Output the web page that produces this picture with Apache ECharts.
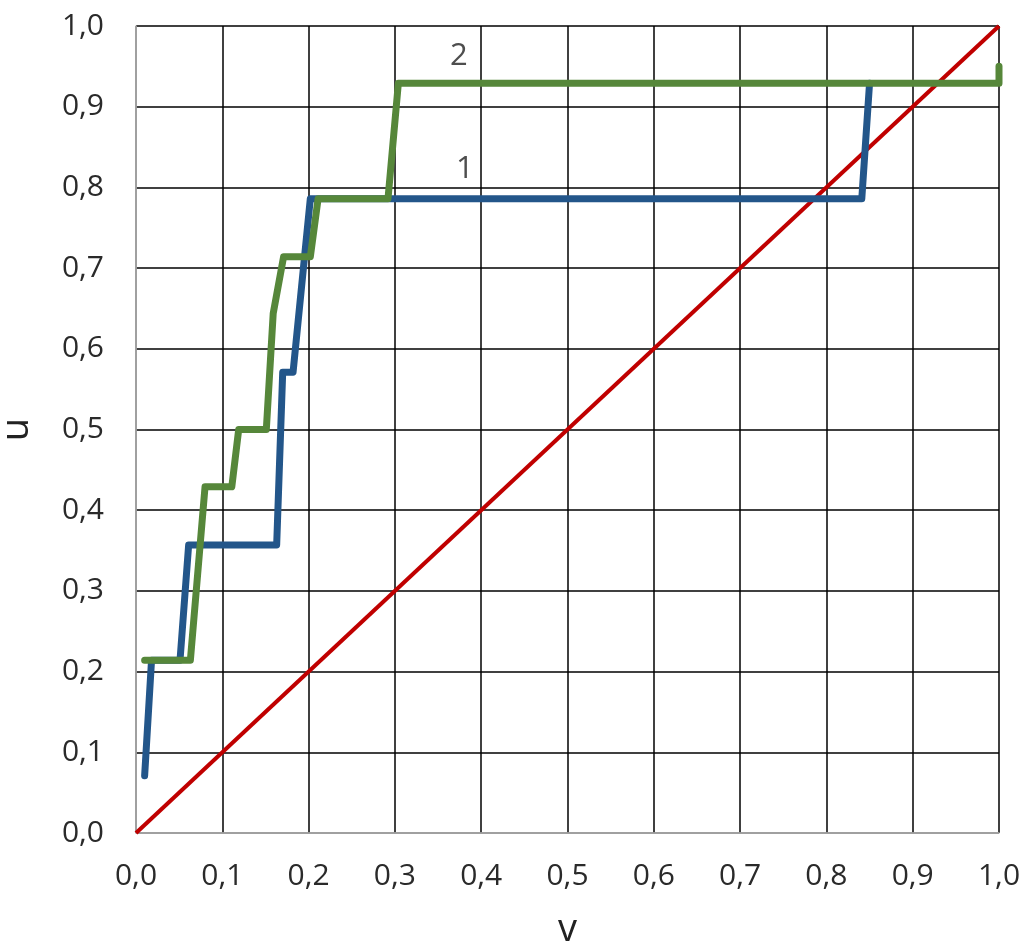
<!DOCTYPE html>
<html>
<head>
<meta charset="utf-8">
<script src="https://cdn.jsdelivr.net/npm/echarts@6/dist/echarts.min.js"></script>
<style>html,body{margin:0;padding:0;background:#fff}#c{width:1029px;height:942px}</style>
</head>
<body>
<div id="c"></div>
<script>
// Curve 1 (blue): [v, u]
var curve1 = [[0.010,0.071],[0.018,0.214],[0.051,0.214],[0.061,0.357],[0.163,0.357],[0.170,0.571],[0.182,0.571],[0.202,0.786],[0.841,0.786],[0.850,0.929]];
// Curve 2 (green): [v, u]
var curve2 = [[0.010,0.214],[0.063,0.214],[0.080,0.429],[0.111,0.429],[0.119,0.500],[0.151,0.500],[0.159,0.644],[0.171,0.714],[0.202,0.714],[0.211,0.786],[0.292,0.786],[0.304,0.929],[1.000,0.929],[1.000,0.950]];
// Diagonal (red)
var diagonal = [[0,0],[1,1]];
// Curve labels: [v, u, text]
var curveLabels = [[0.381,0.822,'1'],[0.374,0.962,'2']];
var tickStep = 0.1;
var axisNames = {x:'v', y:'u'};

var chart = echarts.init(document.getElementById('c'));
var fontFam = '"Open Sans", "Liberation Sans", sans-serif';
function fmt(v){ return v.toFixed(1).replace('.', ','); }
chart.setOption({
  animation:false,
  backgroundColor:'#fff',
  grid:{left:136,right:30,top:26,bottom:109,outerBoundsMode:'none',containLabel:false},
  xAxis:{
    type:'value',min:0,max:1,interval:tickStep,
    name:axisNames.x,nameLocation:'middle',nameGap:78,
    nameTextStyle:{fontSize:38,color:'#222',fontFamily:fontFam},
    axisLine:{show:true,onZero:false,lineStyle:{color:'#c0c0c0',width:1.5}},
    axisTick:{show:false},
    axisLabel:{formatter:fmt,fontSize:30,color:'#2a2a2a',margin:28,fontFamily:fontFam},
    splitLine:{show:true,lineStyle:{color:'#000',width:1.5}}
  },
  yAxis:{
    type:'value',min:0,max:1,interval:tickStep,
    name:axisNames.y,nameLocation:'middle',nameGap:100,
    nameTextStyle:{fontSize:38,color:'#222',fontFamily:fontFam},
    axisLine:{show:true,onZero:false,lineStyle:{color:'#c0c0c0',width:1.5}},
    axisTick:{show:false},
    axisLabel:{formatter:fmt,fontSize:30,color:'#2a2a2a',margin:32,fontFamily:fontFam},
    splitLine:{show:true,lineStyle:{color:'#000',width:1.5}}
  },
  series:[
    {type:'line',data:diagonal,symbol:'none',lineStyle:{color:'#c00000',width:4},z:3},
    {type:'line',data:curve1,symbol:'none',lineStyle:{color:'#23568a',width:7,cap:'round',join:'round'},z:4},
    {type:'line',data:curve2,symbol:'none',lineStyle:{color:'#56873a',width:7,cap:'round',join:'round'},z:5},
    {type:'scatter',data:curveLabels.map(function(d){return {value:[d[0],d[1]],name:d[2]};}),
     symbolSize:0,z:6,
     label:{show:true,position:'inside',formatter:function(p){return p.name;},fontSize:31,color:'#222',fontFamily:fontFam}}
  ]
});
</script>
</body>
</html>
